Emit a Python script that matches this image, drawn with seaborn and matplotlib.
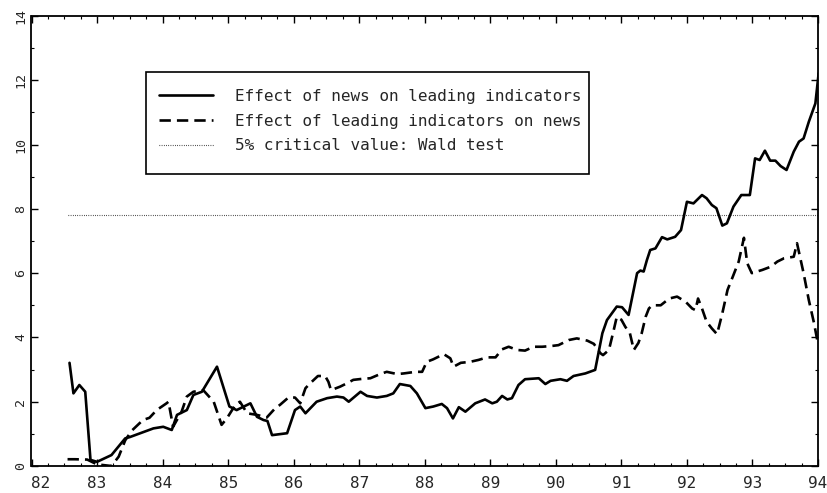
import numpy as np
import pandas as pd
import matplotlib
matplotlib.use("Agg")
import matplotlib.pyplot as plt
import matplotlib.transforms as mtransforms
from matplotlib.patches import Rectangle
from matplotlib.ticker import MultipleLocator
import seaborn as sns

# --- data (x in years, e.g. 83.5 = mid-1983) ---
news_x = [82.58, 82.64, 82.73, 82.82, 82.90, 83.00, 83.22, 83.43, 83.50, 83.66, 83.86, 84.01,
          84.14, 84.22, 84.37, 84.47, 84.60, 84.83, 85.02, 85.13, 85.34, 85.44, 85.54, 85.60,
          85.67, 85.90, 86.02, 86.10, 86.18, 86.35, 86.51, 86.66, 86.76, 86.84, 87.02, 87.12,
          87.27, 87.42, 87.52, 87.62, 87.78, 87.88, 88.01, 88.13, 88.26, 88.34, 88.43, 88.52,
          88.62, 88.77, 88.92, 89.03, 89.10, 89.18, 89.26, 89.33, 89.43, 89.53, 89.74, 89.84,
          89.92, 90.07, 90.17, 90.27, 90.45, 90.60, 90.65, 90.71, 90.78, 90.93, 91.01, 91.11,
          91.24, 91.29, 91.34, 91.39, 91.44, 91.52, 91.62, 91.70, 91.82, 91.91, 92.00, 92.10,
          92.23, 92.30, 92.38, 92.45, 92.54, 92.61, 92.71, 92.83, 92.96, 93.04, 93.11, 93.19,
          93.27, 93.35, 93.43, 93.52, 93.63, 93.71, 93.78, 93.86, 93.96, 94.01]
news_y = [3.21, 2.26, 2.52, 2.31, 0.19, 0.13, 0.34, 0.86, 0.90, 1.02, 1.17, 1.22,
          1.12, 1.59, 1.74, 2.21, 2.31, 3.09, 1.85, 1.74, 1.95, 1.53, 1.43, 1.40,
          0.96, 1.02, 1.74, 1.85, 1.64, 2.00, 2.11, 2.16, 2.13, 2.00, 2.31, 2.18,
          2.13, 2.18, 2.26, 2.55, 2.49, 2.26, 1.80, 1.85, 1.93, 1.80, 1.48, 1.83,
          1.69, 1.95, 2.07, 1.95, 2.00, 2.18, 2.07, 2.11, 2.52, 2.70, 2.73, 2.55,
          2.65, 2.70, 2.65, 2.80, 2.88, 2.99, 3.51, 4.13, 4.54, 4.96, 4.94, 4.70,
          6.00, 6.08, 6.05, 6.41, 6.72, 6.77, 7.12, 7.05, 7.13, 7.34, 8.22, 8.17,
          8.43, 8.33, 8.12, 8.02, 7.48, 7.55, 8.07, 8.43, 8.43, 9.57, 9.52, 9.81,
          9.50, 9.50, 9.33, 9.21, 9.78, 10.09, 10.19, 10.71, 11.28, 12.22]

lead_x = [82.55, 82.66, 82.85, 83.00, 83.22, 83.33, 83.43, 83.53, 83.70, 83.80, 83.91, 84.06,
          84.09, 84.16, 84.29, 84.37, 84.47, 84.62, 84.78, 84.90, 84.98, 85.11, 85.18, 85.29,
          85.44, 85.59, 85.72, 85.79, 85.92, 86.02, 86.10, 86.18, 86.25, 86.37, 86.48, 86.53,
          86.57, 86.71, 86.81, 86.91, 87.04, 87.17, 87.32, 87.42, 87.58, 87.68, 87.86, 87.96,
          88.03, 88.13, 88.29, 88.39, 88.44, 88.55, 88.69, 88.82, 88.95, 89.08, 89.18, 89.28,
          89.41, 89.53, 89.66, 89.79, 89.92, 90.04, 90.20, 90.32, 90.48, 90.58, 90.68, 90.72,
          90.81, 90.88, 90.93, 91.00, 91.06, 91.13, 91.19, 91.26, 91.31, 91.37, 91.42, 91.47,
          91.60, 91.73, 91.85, 91.98, 92.08, 92.13, 92.17, 92.23, 92.30, 92.38, 92.46, 92.54,
          92.62, 92.70, 92.79, 92.87, 92.92, 92.99, 93.15, 93.28, 93.38, 93.48, 93.63, 93.68,
          93.78, 93.86, 93.94, 93.99]
lead_y = [0.21, 0.21, 0.20, 0.05, 0.00, 0.29, 0.80, 1.10, 1.43, 1.50, 1.74, 1.95,
          2.00, 1.22, 1.69, 2.16, 2.31, 2.36, 2.00, 1.28, 1.48, 1.90, 2.00, 1.64,
          1.59, 1.51, 1.80, 1.90, 2.13, 2.13, 1.95, 2.42, 2.57, 2.80, 2.80, 2.62,
          2.36, 2.47, 2.57, 2.68, 2.71, 2.73, 2.86, 2.93, 2.86, 2.88, 2.93, 2.93,
          3.24, 3.32, 3.48, 3.35, 3.09, 3.21, 3.24, 3.30, 3.38, 3.38, 3.63, 3.71,
          3.61, 3.59, 3.71, 3.71, 3.73, 3.76, 3.92, 3.97, 3.90, 3.80, 3.51, 3.45,
          3.61, 4.20, 4.64, 4.55, 4.33, 4.13, 3.61, 3.83, 4.13, 4.64, 4.90, 5.00,
          5.00, 5.21, 5.27, 5.11, 4.90, 4.85, 5.21, 4.90, 4.49, 4.28, 4.10, 4.75,
          5.48, 5.89, 6.36, 7.10, 6.31, 6.00, 6.10, 6.20, 6.36, 6.46, 6.51, 6.93,
          6.00, 5.16, 4.44, 3.90]

crit_x = [82.56, 94.0]
crit_y = [7.81, 7.81]

labels = ["Effect of news on leading indicators",
          "Effect of leading indicators on news",
          "5% critical value: Wald test"]
x_ticks = list(range(82, 95))
x_ticklabels = [str(v) for v in x_ticks]
y_ticks = list(range(0, 15, 2))

# --- figure ---
sns.set_style("ticks")
plt.rcParams["font.family"] = ["DejaVu Sans Mono", "DejaVu Sans"]

W, H = 828, 493
AX_L, AX_R, AX_T, AX_B = 31.5, 818, 16, 466
fig = plt.figure(figsize=(W / 100, H / 100), dpi=100)
ax = fig.add_axes([AX_L / W, (H - AX_B) / H, (AX_R - AX_L) / W, (AX_B - AX_T) / H])

def ax_frac(px, py):
    return (px - AX_L) / (AX_R - AX_L), (AX_B - py) / (AX_B - AX_T)

df_news = pd.DataFrame({"x": news_x, "y": news_y})
df_lead = pd.DataFrame({"x": lead_x, "y": lead_y})
df_crit = pd.DataFrame({"x": crit_x, "y": crit_y})

sns.lineplot(data=df_news, x="x", y="y", ax=ax, color="black", linewidth=1.9,
             estimator=None, sort=False, label=labels[0])
sns.lineplot(data=df_lead, x="x", y="y", ax=ax, color="black", linewidth=1.9,
             estimator=None, sort=False, label=labels[1], dashes=False)
ax.lines[-1].set_dashes([4.3, 2.3])
sns.lineplot(data=df_crit, x="x", y="y", ax=ax, color="black", linewidth=0.8,
             estimator=None, sort=False, label=labels[2])
ax.lines[-1].set_dashes([0.6, 1.4])

ax.set_xlim(82, 94)
ax.set_ylim(0, 14)
ax.set_xlabel("")
ax.set_ylabel("")
ax.set_xticks(x_ticks)
ax.set_xticklabels(x_ticklabels)
ax.set_yticks(y_ticks)
ax.xaxis.set_minor_locator(MultipleLocator(0.25))
ax.yaxis.set_minor_locator(MultipleLocator(1))

for s in ax.spines.values():
    s.set_visible(True)
    s.set_linewidth(1.3)
    s.set_color("black")

ax.tick_params(axis="both", which="major", direction="in", length=5, width=1,
               top=True, right=True, color="black")
ax.tick_params(axis="both", which="minor", direction="in", length=2.5, width=0.8,
               top=True, right=True, color="black")
ax.tick_params(axis="x", which="major", labelsize=11.5, pad=7)
ax.tick_params(axis="y", which="major", labelsize=9.5, pad=3, labelrotation=90)
for t in ax.get_yticklabels():
    t.set_va("center")

# shift first x label slightly right as in the original
offset = mtransforms.ScaledTranslation(9.5 / 100, 0, fig.dpi_scale_trans)
xl = ax.get_xticklabels()
xl[0].set_transform(xl[0].get_transform() + offset)

# legend (frame drawn separately)
lx, ly = ax_frac(159, 89)
leg = ax.legend(loc="upper left", bbox_to_anchor=(lx, ly), frameon=False,
                fontsize=11.5, handlelength=3.375, handletextpad=1.375,
                borderpad=0, labelspacing=0.6, borderaxespad=0)

x0, y0 = ax_frac(146, 174)
x1, y1 = ax_frac(589, 72)
ax.add_patch(Rectangle((x0, y0), x1 - x0, y1 - y0, transform=ax.transAxes,
                       fill=False, edgecolor="black", linewidth=1.2, zorder=5))

fig.savefig("out.png", dpi=100)
